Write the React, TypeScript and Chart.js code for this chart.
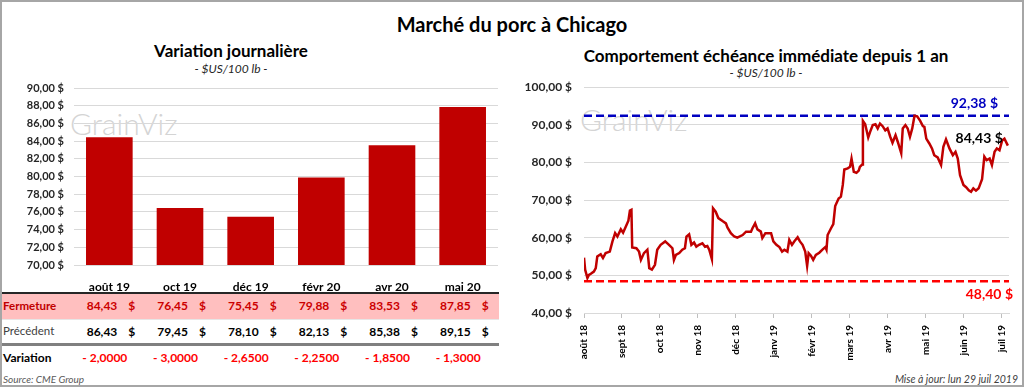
import React, { useEffect, useRef } from "react";
import { Chart, registerables } from "chart.js";

Chart.register(...registerables);

const FONT = "Lato, 'Open Sans', 'DejaVu Sans', sans-serif";

// ---- Left panel: futures contracts ----
const contractLabels = ["août 19", "oct 19", "déc 19", "févr 20", "avr 20", "mai 20"];
const closePrices = [84.43, 76.45, 75.45, 79.88, 83.53, 87.85];
const previousPrices = [86.43, 79.45, 78.1, 82.13, 85.38, 89.15];
const barAxisMin = 70;
const barAxisMax = 90;
const barAxisStep = 2;

// ---- Right panel: nearby contract over one year ----
const monthLabels = [
  "août 18", "sept 18", "oct 18", "nov 18", "déc 18", "janv 19",
  "févr 19", "mars 19", "avr 19", "mai 19", "juin 19", "juil 19",
];
// position in months since août 18
const historyMonths = [
  0.0, 0.03, 0.09, 0.13, 0.18, 0.26, 0.31, 0.35, 0.44, 0.5, 0.57, 0.68, 0.75, 0.82, 0.88, 0.97,
  1.03, 1.1, 1.17, 1.21, 1.25, 1.27, 1.38, 1.45, 1.5, 1.58, 1.67, 1.72, 1.79, 1.87, 1.93,
  2.02, 2.14, 2.24, 2.33, 2.37, 2.42, 2.51, 2.59, 2.66, 2.7, 2.77, 2.83, 2.9, 2.96,
  3.03, 3.12, 3.19, 3.25, 3.3, 3.37, 3.4, 3.47, 3.54, 3.65, 3.74, 3.78, 3.87, 3.96,
  4.04, 4.18, 4.27, 4.4, 4.44, 4.51, 4.57, 4.66, 4.7, 4.78, 4.93, 4.99,
  5.07, 5.15, 5.22, 5.28, 5.36, 5.41, 5.48, 5.54, 5.63, 5.69, 5.76, 5.83, 5.88, 5.92, 5.98,
  6.04, 6.11, 6.2, 6.29, 6.36, 6.39, 6.42, 6.51, 6.57, 6.62, 6.71, 6.77, 6.82, 6.86, 6.95,
  7.01, 7.05, 7.11, 7.18, 7.24, 7.27, 7.33, 7.35, 7.41, 7.49, 7.54, 7.61, 7.68, 7.74, 7.8, 7.87, 7.94,
  8.0, 8.07, 8.13, 8.21, 8.27, 8.36, 8.4, 8.47, 8.53, 8.59, 8.65, 8.71, 8.78, 8.86, 8.93, 8.97,
  9.02, 9.1, 9.17, 9.23, 9.32, 9.41, 9.47, 9.54, 9.63, 9.72, 9.79, 9.85, 9.91,
  10.0, 10.07, 10.14, 10.2, 10.26, 10.33, 10.4, 10.49, 10.55, 10.61, 10.69, 10.75, 10.82, 10.88, 10.95,
  11.02, 11.08, 11.17,
];
const historyPrices = [
  54.7, 51.5, 49.3, 50.1, 50.4, 51.0, 51.9, 55.0, 55.6, 54.6, 55.9, 56.3, 59.0, 61.2, 60.3, 62.2,
  61.3, 62.9, 64.5, 67.2, 67.4, 57.4, 57.2, 56.3, 54.1, 55.9, 56.8, 51.9, 51.5, 52.8, 56.8,
  58.1, 59.0, 58.1, 57.2, 54.1, 55.4, 55.9, 56.8, 57.2, 60.3, 60.9, 58.1, 58.7, 57.6,
  58.1, 58.5, 57.6, 57.8, 56.8, 54.3, 67.8, 66.9, 65.2, 64.4, 63.8, 62.7, 61.2, 60.3,
  60.0, 60.7, 61.6, 61.6, 62.5, 63.8, 62.2, 61.6, 59.9, 61.2, 61.2, 59.0,
  58.1, 57.5, 56.3, 56.8, 56.3, 59.4, 58.1, 59.0, 60.1, 59.0, 58.1, 56.3, 52.5, 55.9, 55.2,
  54.1, 55.4, 56.0, 56.9, 57.5, 56.8, 60.7, 62.5, 63.6, 68.4, 70.4, 70.9, 74.0, 78.1, 78.4,
  78.8, 81.0, 77.5, 77.2, 77.8, 78.8, 79.4, 91.0, 90.1, 86.6, 88.1, 89.9, 90.1, 89.0, 90.3, 89.6, 88.5,
  89.0, 86.8, 85.2, 87.2, 85.4, 82.4, 89.0, 89.9, 89.0, 86.8, 89.0, 92.38, 92.2, 91.0, 89.6, 89.4,
  86.3, 85.0, 83.7, 81.9, 81.3, 79.3, 84.1, 86.1, 83.7, 81.9, 82.8, 81.0, 76.6,
  74.0, 73.4, 72.6, 72.2, 73.1, 72.5, 73.1, 75.5, 81.5, 80.6, 81.0, 79.3, 82.8, 83.7, 83.2,
  85.8, 86.3, 84.43,
];
const yearHigh = 92.38;
const yearLow = 48.4;
const lineAxisMin = 40;
const lineAxisMax = 100;
const lineAxisStep = 10;
const monthAxisMax = 11.2;

const fmt = (v: number, d = 2) => Number(v).toFixed(d).replace(".", ",");
const fmtDiff = (v: number) => (v < 0 ? "- " : "+ ") + fmt(Math.abs(v), 4);

// geometry of the left plot (shared by chart and table)
const L_PLOT_LEFT = 74;
const L_PLOT_RIGHT = 498;
const COL_W = (L_PLOT_RIGHT - L_PLOT_LEFT) / contractLabels.length;

function BarChart() {
  const ref = useRef<HTMLCanvasElement>(null);
  useEffect(() => {
    const chart = new Chart(ref.current!, {
      type: "bar",
      data: {
        labels: contractLabels,
        datasets: [
          {
            data: closePrices,
            backgroundColor: "#c00000",
            borderWidth: 0,
            barPercentage: 0.66,
            categoryPercentage: 1,
          },
        ],
      },
      options: {
        responsive: false,
        animation: false,
        layout: { padding: { top: 10, right: 510 - L_PLOT_RIGHT, left: 0, bottom: 0 } },
        plugins: { legend: { display: false }, tooltip: { enabled: false } },
        scales: {
          x: {
            grid: { display: false },
            border: { display: false },
            ticks: {
              color: "#000",
              font: { family: FONT, size: 12, weight: "bold" },
              padding: 7,
            },
            afterFit: (s: any) => {
              s.height = 35;
            },
          },
          y: {
            min: barAxisMin,
            max: barAxisMax,
            ticks: {
              stepSize: barAxisStep,
              callback: (v: any) => fmt(v) + " $",
              color: "#262626",
              font: { family: FONT, size: 11, weight: "bold" },
              padding: 0,
            },
            grid: { color: "#d9d9d9", drawTicks: true, tickLength: 10, tickColor: "rgba(0,0,0,0)" },
            border: { display: false },
            afterFit: (s: any) => {
              s.width = L_PLOT_LEFT;
            },
          },
        },
      } as any,
    });
    return () => chart.destroy();
  }, []);
  return (
    <canvas
      ref={ref}
      width={510}
      height={222}
      style={{ position: "absolute", left: 0, top: 78, width: 510, height: 222 }}
    />
  );
}

const refLabelsPlugin = {
  id: "refLabels",
  afterDatasetsDraw(chart: any) {
    const { ctx, chartArea, scales } = chart;
    const x = scales.x;
    const y = scales.y;
    ctx.save();
    ctx.font = `bold 14px ${FONT}`;
    ctx.textBaseline = "middle";
    ctx.textAlign = "right";
    ctx.fillStyle = "#0000c0";
    ctx.fillText(fmt(yearHigh) + " $", chartArea.right - 11, y.getPixelForValue(yearHigh) - 12);
    ctx.fillStyle = "#ff0000";
    ctx.fillText(fmt(yearLow) + " $", chartArea.right + 4, y.getPixelForValue(yearLow) + 13);
    const n = historyPrices.length - 1;
    ctx.fillStyle = "#000000";
    ctx.fillText(
      fmt(historyPrices[n]) + " $",
      x.getPixelForValue(historyMonths[n]) - 5,
      y.getPixelForValue(historyPrices[n]) - 7
    );
    ctx.restore();
  },
};

function LineChart() {
  const ref = useRef<HTMLCanvasElement>(null);
  useEffect(() => {
    const chart = new Chart(ref.current!, {
      type: "line",
      data: {
        datasets: [
          {
            data: historyMonths.map((m, i) => ({ x: m, y: historyPrices[i] })),
            borderColor: "#c00000",
            borderWidth: 2.5,
            pointRadius: 0,
            tension: 0,
          },
          {
            data: [
              { x: 0, y: yearHigh },
              { x: monthAxisMax, y: yearHigh },
            ],
            borderColor: "#0000c0",
            borderWidth: 2.5,
            borderDash: [8, 4],
            pointRadius: 0,
          },
          {
            data: [
              { x: 0, y: yearLow },
              { x: monthAxisMax, y: yearLow },
            ],
            borderColor: "#ff0000",
            borderWidth: 2.5,
            borderDash: [8, 4],
            pointRadius: 0,
          },
        ],
      },
      options: {
        responsive: false,
        animation: false,
        layout: { padding: { top: 9, right: 13, left: 0, bottom: 0 } },
        plugins: { legend: { display: false }, tooltip: { enabled: false } },
        scales: {
          x: {
            type: "linear",
            min: 0,
            max: monthAxisMax,
            afterBuildTicks: (s: any) => {
              s.ticks = monthLabels.map((_, i) => ({ value: i }));
            },
            ticks: {
              autoSkip: false,
              minRotation: 90,
              maxRotation: 90,
              callback: (v: any) => monthLabels[Math.round(v)] ?? "",
              color: "#000",
              font: { family: FONT, size: 10, weight: "bold" },
              padding: 7,
            },
            grid: { drawOnChartArea: false, drawTicks: true, tickLength: 5, color: "#bfbfbf" },
            border: { display: true, color: "#d9d9d9" },
            afterFit: (s: any) => {
              s.height = 57;
            },
          },
          y: {
            min: lineAxisMin,
            max: lineAxisMax,
            ticks: {
              stepSize: lineAxisStep,
              callback: (v: any) => fmt(v) + " $",
              color: "#262626",
              font: { family: FONT, size: 12, weight: "bold" },
              padding: 0,
            },
            grid: { color: "#d9d9d9", drawTicks: true, tickLength: 12, tickColor: "rgba(0,0,0,0)" },
            border: { display: false },
            afterFit: (s: any) => {
              s.width = 74;
            },
          },
        },
      } as any,
      plugins: [refLabelsPlugin],
    });
    return () => chart.destroy();
  }, []);
  return (
    <canvas
      ref={ref}
      width={512}
      height={292}
      style={{ position: "absolute", left: 510, top: 78, width: 512, height: 292 }}
    />
  );
}

function Txt(props: {
  x: number;
  y: number;
  align?: "left" | "center" | "right";
  size: number;
  weight?: string | number;
  italic?: boolean;
  color?: string;
  children: React.ReactNode;
}) {
  const { x, y, align = "center", size, weight = "normal", italic, color = "#000", children } = props;
  const tx = align === "center" ? "-50%" : align === "right" ? "-100%" : "0";
  return (
    <div
      style={{
        position: "absolute",
        left: x,
        top: y,
        transform: `translate(${tx}, -50%)`,
        fontSize: size,
        fontWeight: weight as any,
        fontStyle: italic ? "italic" : "normal",
        color,
        whiteSpace: "nowrap",
        lineHeight: 1,
        fontFamily: FONT,
      }}
    >
      {children}
    </div>
  );
}

function DataTable() {
  const centers = contractLabels.map((_, i) => L_PLOT_LEFT + COL_W * (i + 0.5));
  const rowLine = (top: number, h: number, bg: string) => (
    <div style={{ position: "absolute", left: 0, top, width: 499, height: h, background: bg }} />
  );
  const priceCell = (cx: number, y: number, v: number, color: string, key: string) => (
    <React.Fragment key={key}>
      <Txt x={cx + 8} y={y} align="right" size={12} weight="bold" color={color}>
        {fmt(v)}
      </Txt>
      <Txt x={cx + 26} y={y} align="right" size={12} weight="bold" color={color}>
        $
      </Txt>
    </React.Fragment>
  );
  return (
    <>
      {rowLine(293.5, 25, "#ffbfbf")}
      {rowLine(292, 1.5, "#262626")}
      {rowLine(318.5, 1, "#e6e6e6")}
      {rowLine(343, 2.5, "#808080")}
      <Txt x={3} y={306} align="left" size={11.5} weight="bold" color="#c00000">
        Fermeture
      </Txt>
      <Txt x={3} y={331} align="left" size={11.5} color="#404040">
        Précédent
      </Txt>
      <Txt x={3} y={357.5} align="left" size={12} weight="bold" color="#000">
        Variation
      </Txt>
      {centers.map((cx, i) => priceCell(cx, 306, closePrices[i], "#cc0000", "f" + i))}
      {centers.map((cx, i) => priceCell(cx, 331.5, previousPrices[i], "#000", "p" + i))}
      {centers.map((cx, i) => (
        <Txt key={"v" + i} x={cx + 18} y={357.5} align="right" size={12} weight="bold" color="#ff0000">
          {fmtDiff(closePrices[i] - previousPrices[i])}
        </Txt>
      ))}
    </>
  );
}

function Watermark({ x, y }: { x: number; y: number }) {
  return (
    <div
      style={{
        position: "absolute",
        left: x,
        top: y,
        fontFamily: FONT,
        fontWeight: 300,
        fontSize: 30,
        lineHeight: "30px",
        color: "#d4d4d4",
        whiteSpace: "nowrap",
      }}
    >
      GrainViz
    </div>
  );
}

export default function App() {
  return (
    <div
      style={{
        position: "absolute",
        left: 0,
        top: 0,
        width: 1024,
        height: 387,
        background: "#fff",
        overflow: "hidden",
        fontFamily: FONT,
      }}
    >
      <Watermark x={70} y={108} />
      <Watermark x={580} y={104} />
      <Txt x={512} y={24} size={20} weight="bold">
        Marché du porc à Chicago
      </Txt>
      <Txt x={231} y={50} size={17} weight="bold">
        Variation journalière
      </Txt>
      <Txt x={231} y={69} size={12} italic color="#262626">
        - $US/100 lb -
      </Txt>
      <Txt x={766} y={55} size={17} weight="bold">
        Comportement échéance immédiate depuis 1 an
      </Txt>
      <Txt x={766} y={73} size={12} italic color="#262626">
        - $US/100 lb -
      </Txt>
      <BarChart />
      <DataTable />
      <LineChart />
      <Txt x={3} y={379} align="left" size={10} italic color="#595959">
        Source: CME Group
      </Txt>
      <Txt x={1018} y={379} align="right" size={10.5} italic color="#404040">
        Mise à jour: lun 29 juil 2019
      </Txt>
      <div
        style={{
          position: "absolute",
          inset: 0,
          border: "2px solid #a6a6a6",
          boxSizing: "border-box",
          pointerEvents: "none",
        }}
      />
    </div>
  );
}
